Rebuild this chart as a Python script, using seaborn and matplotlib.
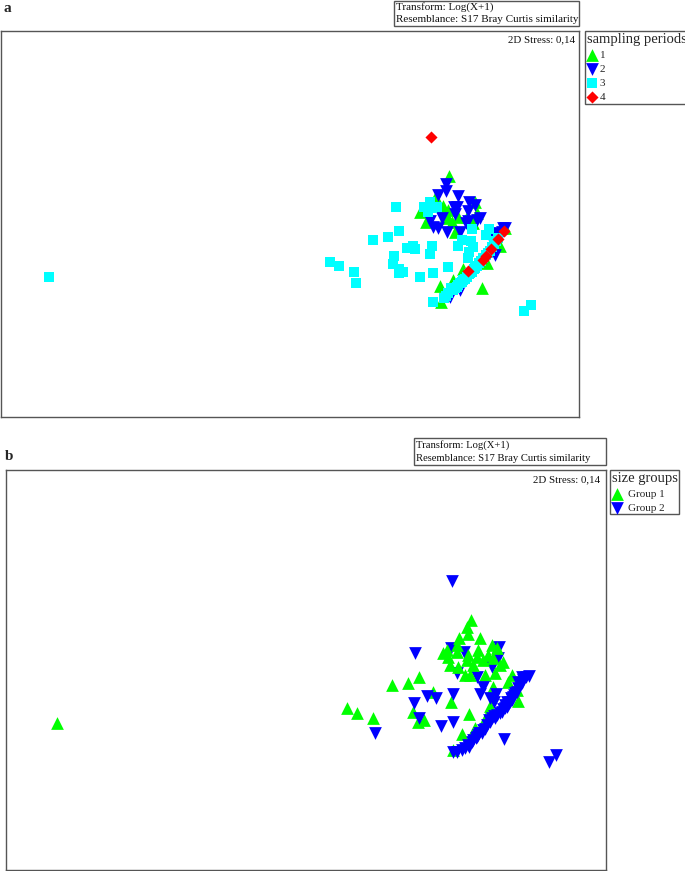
import matplotlib
matplotlib.use('Agg')
import matplotlib.pyplot as plt
from matplotlib.patches import Rectangle
import seaborn as sns

sns.set_theme(style='white')
plt.rcParams['font.family'] = ['Liberation Serif', 'DejaVu Serif']

W, H = 685, 871

# ordination scores (arbitrary MDS units, y grows downwards)
a_green_x = [388, 345, 300, 370, 385, 385, 395, 415, 318, 465, 470, 460, 405, 360, 398, 485, 430, 362, 502, 540, 555, 350, 378, 440]
a_green_y = [168, 235, 277, 258, 270, 295, 305, 290, 305, 245, 280, 310, 335, 497, 480, 505, 448, 545, 428, 378, 325, 240, 285, 290]
a_blue_x = [378, 378, 355, 415, 447, 465, 403, 410, 443, 405, 365, 330, 480, 445, 470, 340, 355, 380, 420, 438, 545, 555, 525, 520, 390, 420, 548, 535, 525, 510]
a_blue_y = [193, 213, 225, 228, 245, 255, 262, 260, 272, 282, 293, 303, 295, 303, 300, 320, 325, 335, 335, 310, 335, 325, 405, 350, 530, 510, 325, 340, 355, 350]
a_cyan_x = [-813, 227, 237, 205, 158, 30, 56, 103, 108, 223, 220, 238, 250, 237, 262, 278, 285, 335, 331, 383, 338, 300, 330, 312, 350, 325, 335, 457, 507, 497, 425, 452, 415, 460, 447, 445, 338, 372, 612, 633, 398, 410, 425, 440, 455, 470, 483, 497, 510, 522, 535, 415, 430, 448, 462, 385, 405, 420, 435, 450, 465, 478, 490, 505, 515, 528, 392, 378]
a_cyan_y = [471, 260, 334, 352, 359, 425, 437, 455, 490, 407, 432, 448, 457, 460, 383, 378, 388, 378, 403, 442, 460, 470, 245, 260, 262, 275, 265, 326, 328, 346, 360, 362, 378, 380, 395, 415, 546, 535, 573, 554, 510, 500, 487, 470, 455, 437, 422, 405, 392, 372, 355, 495, 480, 462, 447, 520, 505, 490, 478, 460, 445, 430, 415, 398, 382, 362, 505, 528]
a_red_x = [332, 552, 533, 513, 497, 488, 443]
a_red_y = [52, 334, 358, 388, 408, 420, 453]

b_blue_back_x = [332, 373, 477, 475, 455, 350, 410]
b_blue_back_y = [233, 245, 232, 265, 290, 310, 320]
b_green_x = [-849, 393, 382, 384, 358, 350, 420, 455, 472, 310, 320, 350, 415, 385, 380, 400, 330, 355, 445, 460, 490, 480, 435, 465, 375, 390, 515, 505, 458, 237, 204, 155, 278, 333, 218, 253, 235, 21, 50, 98, 388, 450, 365, 405, 438, 533, 532, 340, 325, 410, 430]
b_green_y = [459, 150, 172, 192, 205, 225, 205, 225, 235, 250, 240, 245, 240, 255, 270, 285, 285, 290, 255, 265, 275, 285, 315, 310, 315, 315, 315, 335, 350, 320, 338, 345, 365, 395, 425, 450, 455, 413, 428, 445, 432, 408, 492, 473, 440, 392, 360, 540, 260, 262, 270]
b_blue_x = [335, 226, 428, 420, 468, 450, 462, 262, 287, 338, 222, 238, 302, 340, 104, 493, 627, 648, 340, 350, 375, 385, 400, 410, 425, 435, 447, 465, 480, 490, 500, 510, 520, 530, 540, 548, 558, 567, 495, 505, 455, 415, 365, 388, 395, 408, 418, 430, 440, 450, 462, 472, 485, 495, 505, 512, 522, 533, 545, 552, 545, 535, 525, 515, 500]
b_blue_y = [33, 250, 350, 372, 372, 385, 395, 377, 383, 372, 400, 445, 467, 457, 488, 507, 575, 555, 545, 545, 535, 525, 510, 500, 490, 478, 450, 443, 430, 418, 410, 395, 380, 365, 345, 330, 322, 318, 405, 400, 445, 495, 540, 530, 515, 505, 490, 480, 465, 455, 438, 435, 425, 415, 405, 385, 375, 355, 340, 325, 320, 335, 370, 390, 395]

period_labels = ['1', '2', '3', '4']
group_labels = ['Group 1', 'Group 2']

GREEN, BLUE, CYAN, RED = '#00ff00', '#0000ff', '#00ffff', '#ff0000'
BOX = '#555555'
TRI = 84

fig = plt.figure(figsize=(W / 100, H / 100), dpi=100, facecolor='white')


def px_axes(x0, y0, x1, y1):
    ax = fig.add_axes([x0 / W, 1 - y1 / H, (x1 - x0) / W, (y1 - y0) / H])
    ax.set_xticks([])
    ax.set_yticks([])
    for s in ax.spines.values():
        s.set_color(BOX)
        s.set_linewidth(1.0)
    return ax


def info_box(x0, y0, x1, y1, fs):
    fig.add_artist(Rectangle((x0 / W, 1 - y1 / H), (x1 - x0) / W, (y1 - y0) / H,
                             transform=fig.transFigure, fill=False, ec=BOX, lw=1.0))
    mid = (y0 + y1) / 2
    fig.text((x0 + 2) / W, 1 - (mid - 6.5) / H, 'Transform: Log(X+1)', fontsize=fs, va='center', color='#111111')
    fig.text((x0 + 2) / W, 1 - (mid + 6.5) / H, 'Resemblance: S17 Bray Curtis similarity', fontsize=fs, va='center', color='#111111')


def pts(ax, x, y, marker, color, size, label=None):
    sns.scatterplot(x=x, y=y, marker=marker, color=color, s=size, linewidth=0, ax=ax, label=label, legend=False, zorder=3)


def make_legend(ax, title, anchor, textpad, fs):
    handles, labels = ax.get_legend_handles_labels()
    leg = ax.legend(handles, labels, title=title, loc='upper left', bbox_to_anchor=anchor,
                    bbox_transform=fig.transFigure, frameon=True, fancybox=False, framealpha=1,
                    edgecolor=BOX, fontsize=fs, title_fontsize=10.5, labelspacing=0.4,
                    borderpad=0.15, handletextpad=textpad, borderaxespad=0, handlelength=1.0)
    leg.get_frame().set_linewidth(1.0)
    leg._legend_box.align = 'left'
    leg._legend_box.sep = 3


# panel a
ax1 = px_axes(1, 31, 579, 417)
pts(ax1, a_green_x, a_green_y, '^', GREEN, TRI, period_labels[0])
pts(ax1, a_blue_x, a_blue_y, 'v', BLUE, TRI, period_labels[1])
pts(ax1, a_cyan_x, a_cyan_y, 's', CYAN, 50, period_labels[2])
pts(ax1, a_red_x, a_red_y, 'D', RED, 38, period_labels[3])
ax1.set_xlim(-957, 777)
ax1.set_ylim(891, -267)
ax1.text(575 / W, 1 - 40 / H, '2D Stress: 0,14', transform=fig.transFigure, ha='right', va='center', fontsize=7.8, color='#111111')
make_legend(ax1, 'sampling periods', (585 / W, 1 - 31 / H), 0.2, 8)
info_box(394, 1, 579, 26, 8)
fig.text(4 / W, 1 - 8 / H, 'a', fontsize=11, fontweight='bold', va='center')

# panel b
ax2 = px_axes(6, 470, 606, 870)
pts(ax2, b_blue_back_x, b_blue_back_y, 'v', BLUE, TRI)
pts(ax2, b_green_x, b_green_y, '^', GREEN, TRI, group_labels[0])
pts(ax2, b_blue_x, b_blue_y, 'v', BLUE, TRI, group_labels[1])
ax2.set_xlim(-1002, 798)
ax2.set_ylim(900, -300)
ax2.text(600 / W, 1 - 480 / H, '2D Stress: 0,14', transform=fig.transFigure, ha='right', va='center', fontsize=7.8, color='#111111')
make_legend(ax2, 'size groups', (610 / W, 1 - 470 / H), 0.45, 8)
info_box(414, 438, 606, 465, 7.7)
fig.text(5 / W, 1 - 456 / H, 'b', fontsize=11, fontweight='bold', va='center')

fig.savefig('out.png', dpi=100)
